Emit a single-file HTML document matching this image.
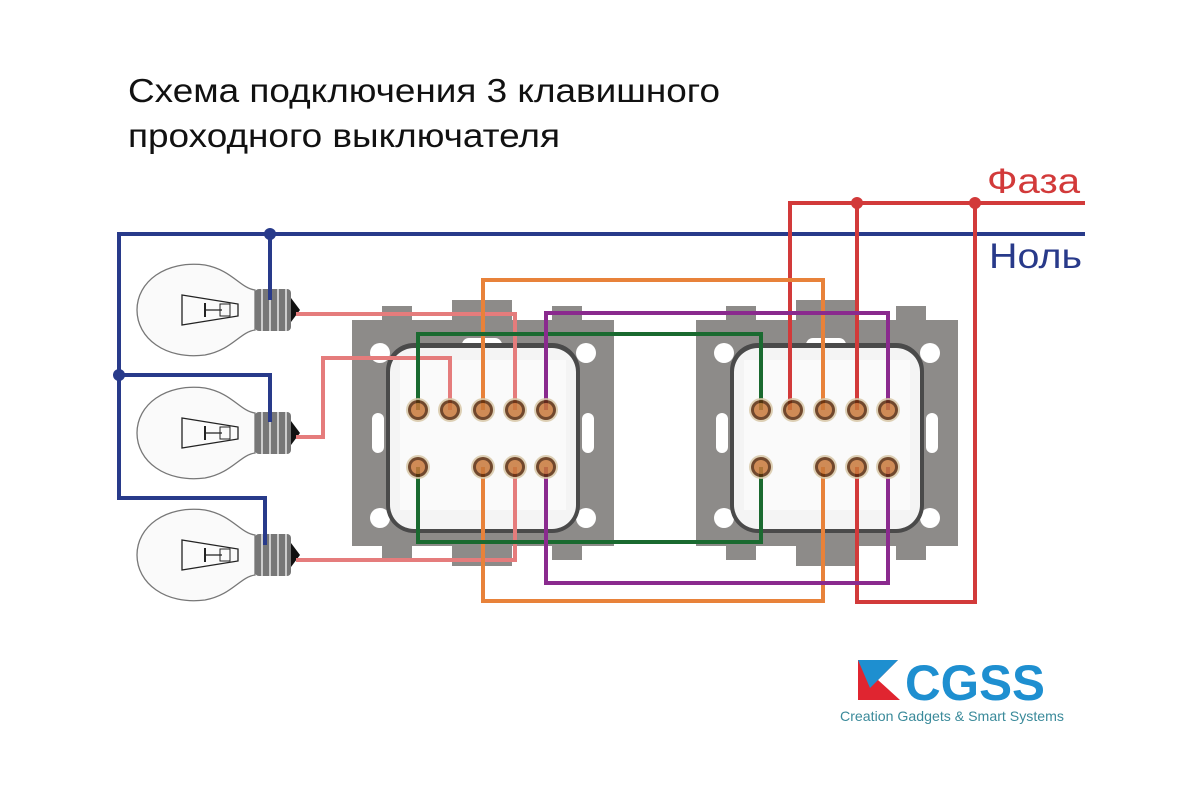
<!DOCTYPE html>
<html><head><meta charset="utf-8"><style>
html,body{margin:0;padding:0;background:#fff;}
svg{display:block;}
text{font-family:"Liberation Sans",sans-serif;}
</style></head><body>
<svg width="1200" height="800" viewBox="0 0 1200 800" xmlns="http://www.w3.org/2000/svg">
<defs>
<g id="plate">
  <path d="M0,22 H30 V8 H60 V22 H100 V2 H160 V22 H200 V8 H230 V22 H262 V248 H230 V262 H200 V248 H160 V268 H100 V248 H60 V262 H30 V248 H0 Z" fill="#8d8b89"/>
  <circle cx="28" cy="55" r="10" fill="#fff"/><circle cx="234" cy="55" r="10" fill="#fff"/>
  <circle cx="28" cy="220" r="10" fill="#fff"/><circle cx="234" cy="220" r="10" fill="#fff"/>
  <rect x="110" y="40" width="40" height="14" rx="7" fill="#fff"/>
  <rect x="110" y="218" width="40" height="14" rx="7" fill="#fff"/>
  <rect x="20" y="115" width="12" height="40" rx="6" fill="#fff"/>
  <rect x="230" y="115" width="12" height="40" rx="6" fill="#fff"/>
  <rect x="34" y="45" width="194" height="190" rx="28" fill="#4a4a4a"/>
  <rect x="38" y="50" width="186" height="181" rx="24" fill="#f4f4f4"/>
  <rect x="48" y="62" width="166" height="150" fill="#fafafa"/>
</g>
<g id="term">
  <circle r="12" fill="#d8c8a8"/><circle r="10" fill="#5a2a0a"/><circle r="7" fill="#c8783a"/>
</g>
<g id="bulb">
  <path d="M255,-20 C240,-22 232,-40 205,-45 C165,-50 137,-28 137,0 C137,28 165,50 205,45 C232,40 240,22 255,20 Z" fill="#fafafa" stroke="#777" stroke-width="1.3"/>
  <path d="M182,-15 L238,-6 L238,6 L182,15 Z" fill="none" stroke="#222" stroke-width="1.3"/>
  <line x1="205" y1="-7" x2="205" y2="7" stroke="#222" stroke-width="2"/>
  <line x1="205" y1="0" x2="222" y2="0" stroke="#222" stroke-width="1.3"/>
  <rect x="220" y="-6" width="10" height="12" fill="none" stroke="#222"/>
  <rect x="255" y="-21" width="36" height="42" rx="4" fill="#777"/>
  <g stroke="#ccc" stroke-width="2"><line x1="262" y1="-21" x2="262" y2="21"/><line x1="270" y1="-21" x2="270" y2="21"/><line x1="278" y1="-21" x2="278" y2="21"/><line x1="286" y1="-21" x2="286" y2="21"/></g>
  <path d="M291,-12 L300,0 L291,12 Z" fill="#111"/>
</g>
</defs>

<text x="128" y="102" font-size="33" fill="#111" textLength="592" lengthAdjust="spacingAndGlyphs">Схема подключения 3 клавишного</text>
<text x="128" y="147" font-size="33" fill="#111" textLength="432" lengthAdjust="spacingAndGlyphs">проходного выключателя</text>

<use href="#plate" x="352" y="298"/>
<use href="#plate" x="696" y="298"/>

<use href="#bulb" y="310"/>
<use href="#bulb" y="433"/>
<use href="#bulb" y="555"/>

<g fill="none" stroke-width="4" stroke-linejoin="miter">
  <path d="M1085,234 H119 V498 H265 V545" stroke="#283a8a"/>
  <path d="M270,234 V300" stroke="#283a8a"/>
  <path d="M119,375 H270 V422" stroke="#283a8a"/>
  <path d="M1085,203 H790 V410" stroke="#d23a3a"/>
  <path d="M857,203 V410" stroke="#d23a3a"/>
  <path d="M975,203 V602 H857 V467" stroke="#d23a3a"/>
  <path d="M296,314 H515 V410" stroke="#e57c7c"/>
  <path d="M296,437 H323 V358 H450 V410" stroke="#e57c7c"/>
  <path d="M296,560 H515 V467" stroke="#e57c7c"/>
  <path d="M483,410 V280 H823 V410" stroke="#e8823a"/>
  <path d="M483,467 V601 H823 V467" stroke="#e8823a"/>
  <path d="M418,410 V334 H761 V410" stroke="#1a6a30"/>
  <path d="M418,467 V542 H761 V467" stroke="#1a6a30"/>
  <path d="M546,410 V313 H888 V410" stroke="#8a2a8e"/>
  <path d="M546,467 V583 H888 V467" stroke="#8a2a8e"/>
</g>
<circle cx="270" cy="234" r="6" fill="#283a8a"/>
<circle cx="119" cy="375" r="6" fill="#283a8a"/>
<circle cx="857" cy="203" r="6" fill="#d23a3a"/>
<circle cx="975" cy="203" r="6" fill="#d23a3a"/>

<g opacity="0.85">
<use href="#term" x="418" y="410"/><use href="#term" x="450" y="410"/><use href="#term" x="483" y="410"/><use href="#term" x="515" y="410"/><use href="#term" x="546" y="410"/>
<use href="#term" x="418" y="467"/><use href="#term" x="483" y="467"/><use href="#term" x="515" y="467"/><use href="#term" x="546" y="467"/>
<use href="#term" x="761" y="410"/><use href="#term" x="793" y="410"/><use href="#term" x="825" y="410"/><use href="#term" x="857" y="410"/><use href="#term" x="888" y="410"/>
<use href="#term" x="761" y="467"/><use href="#term" x="825" y="467"/><use href="#term" x="857" y="467"/><use href="#term" x="888" y="467"/>
</g>

<text x="987" y="193" font-size="35" fill="#d23a3a" textLength="93" lengthAdjust="spacingAndGlyphs">Фаза</text>
<text x="989" y="268" font-size="35" fill="#283a8a" textLength="93" lengthAdjust="spacingAndGlyphs">Ноль</text>

<path d="M858,660 L898,660 L878,680 L900,700 L858,700 Z" fill="#e02530"/>
<path d="M858,660 L898,660 L870,688 Z" fill="#1e8fd0"/>
<text x="905" y="700" font-size="50" font-weight="bold" fill="#1e8fd0" textLength="140" lengthAdjust="spacingAndGlyphs">CGSS</text>
<text x="840" y="721" font-size="14" fill="#3a8a9a" textLength="224" lengthAdjust="spacingAndGlyphs">Creation Gadgets &amp; Smart Systems</text>
</svg>
</body></html>
